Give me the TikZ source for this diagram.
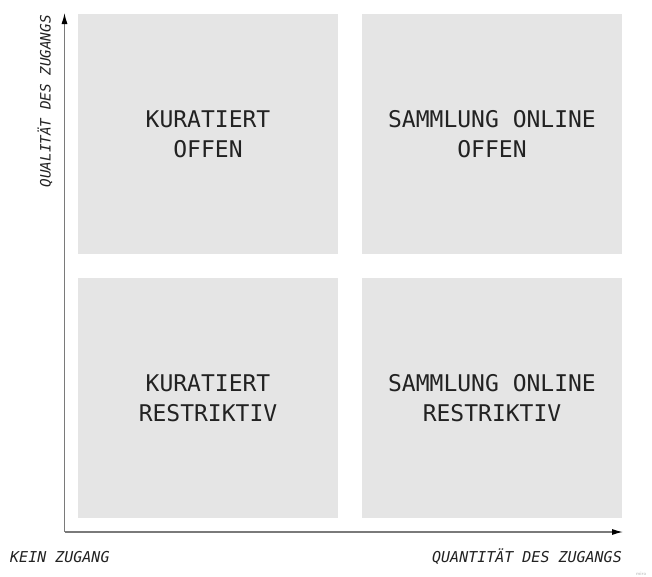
\documentclass[tikz,border=0pt]{standalone}
\usepackage{fontspec}
\setmonofont{DejaVu Sans Mono}
\usetikzlibrary{arrows.meta}
\definecolor{boxgray}{HTML}{E5E5E5}
\definecolor{axisgray}{HTML}{7A7A7A}
\definecolor{txt}{HTML}{222222}
\tikzset{
  quad/.style={fill=boxgray, draw=none, minimum width=260pt, minimum height=240pt, inner sep=0pt,
    align=center, text=txt, font=\ttfamily\fontsize{23pt}{30pt}\selectfont},
  axis/.style={draw=axisgray, line width=1.2pt, -{Latex[length=11pt,width=6pt,black]}},
  axlabel/.style={text=txt, font=\ttfamily\itshape\fontsize{15pt}{18pt}\selectfont, inner sep=0pt}
}
\begin{document}
\begin{tikzpicture}[x=1pt,y=-1pt]
\useasboundingbox (0,0) rectangle (652,576);
\node[quad] (tl) at (208,134) {KURATIERT\\OFFEN};
\node[quad] (tr) at (492,134) {SAMMLUNG ONLINE\\OFFEN};
\node[quad] (bl) at (208,398) {KURATIERT\\RESTRIKTIV};
\node[quad] (br) at (492,398) {SAMMLUNG ONLINE\\RESTRIKTIV};
\coordinate (o) at (64.5,532);
\coordinate (ytop) at (64.5,13);
\coordinate (xend) at (623,532);
\draw[axis] (o) -- (ytop);
\draw[axis] (o) -- (xend);
\node[axlabel, anchor=west] (kz) at (10,557) {KEIN ZUGANG};
\node[axlabel, anchor=east] (qz) at (622,557) {QUANTITÄT DES ZUGANGS};
\node[axlabel, anchor=east, rotate=90, font=\ttfamily\itshape\fontsize{14.3pt}{18pt}\selectfont] (ql) at (45,15) {QUALITÄT DES ZUGANGS};
\node[text=black!30, font=\sffamily\fontsize{5pt}{6pt}\selectfont, anchor=west, inner sep=0pt] (wm) at (636,574) {miro};
\end{tikzpicture}
\end{document}
